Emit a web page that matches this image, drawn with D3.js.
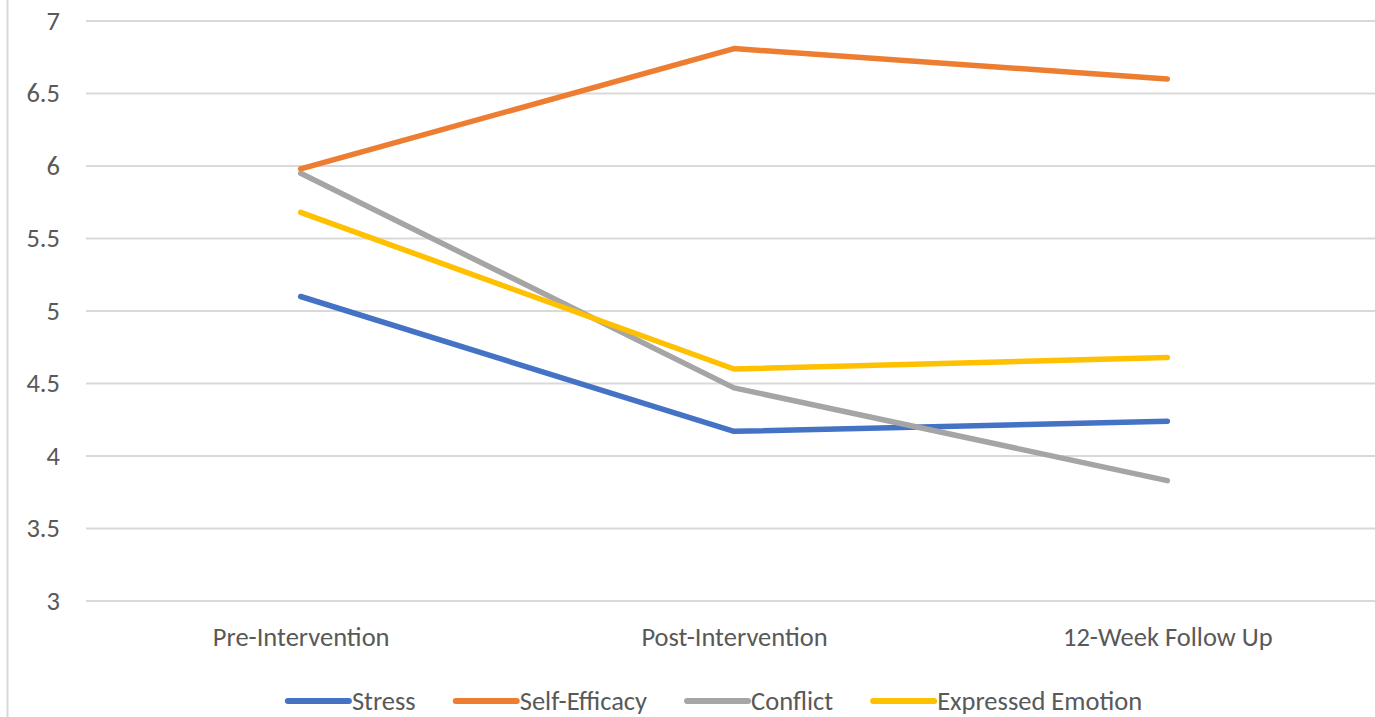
<!DOCTYPE html>
<html>
<head>
<meta charset="utf-8">
<script src="https://cdn.jsdelivr.net/npm/d3@7"></script>
<style>
  html, body { margin: 0; padding: 0; background: #fff; }
  svg { display: block; }
  text { font-family: Carlito, Lato, "Open Sans", sans-serif; fill: #595959; }
</style>
</head>
<body>
<svg id="chart" width="1375" height="717"></svg>
<script>
const categories = ["Pre-Intervention", "Post-Intervention", "12-Week Follow Up"];
const seriesNames = ["Stress", "Self-Efficacy", "Conflict", "Expressed Emotion"];
const stress = [5.10, 4.17, 4.24];
const selfEfficacy = [5.98, 6.81, 6.60];
const conflict = [5.95, 4.47, 3.83];
const expressedEmotion = [5.68, 4.60, 4.68];
const colors = ["#4472C4", "#ED7D31", "#A5A5A5", "#FFC000"];
const yTicks = [3, 3.5, 4, 4.5, 5, 5.5, 6, 6.5, 7];
const yTickLabels = ["3", "3.5", "4", "4.5", "5", "5.5", "6", "6.5", "7"];

const series = [stress, selfEfficacy, conflict, expressedEmotion].map((v, i) => ({
  name: seriesNames[i], values: v, color: colors[i]
}));

const svg = d3.select("#chart");
const W = 1375, H = 717;
const plot = { left: 84, right: 1384, top: 21, bottom: 601 };
const fs = "26.5px";

// outer left border
svg.append("line").attr("x1", 7.5).attr("x2", 7.5).attr("y1", 0).attr("y2", H)
  .attr("stroke", "#d9d9d9").attr("stroke-width", 2);

const x = d3.scalePoint().domain(categories).range([plot.left, plot.right]).padding(0.5);
const y = d3.scaleLinear().domain([3, 7]).range([plot.bottom, plot.top]);

// gridlines
svg.append("g").selectAll("line").data(yTicks).join("line")
  .attr("x1", 86).attr("x2", W)
  .attr("y1", d => y(d)).attr("y2", d => y(d))
  .attr("stroke", "#d9d9d9").attr("stroke-width", 2);

// y axis labels
const yAxis = d3.axisLeft(y).tickValues(yTicks).tickFormat((d, i) => yTickLabels[i]).tickSize(0).tickPadding(0);
const gy = svg.append("g").attr("transform", "translate(60,0)").call(yAxis);
gy.select(".domain").remove();
gy.selectAll("text").style("font-size", fs).attr("fill", "#595959").attr("font-family", null);

// x axis labels
const xAxis = d3.axisBottom(x).tickSize(0).tickPadding(0);
const gx = svg.append("g").attr("transform", "translate(0,627)").call(xAxis);
gx.select(".domain").remove();
gx.selectAll("text").style("font-size", fs).attr("fill", "#595959").attr("font-family", null).attr("dy", "0.71em").attr("y", 0);

// lines
const line = d3.line().x((d, i) => x(categories[i])).y(d => y(d));
svg.append("g").selectAll("path").data(series).join("path")
  .attr("d", d => line(d.values))
  .attr("fill", "none")
  .attr("stroke", d => d.color)
  .attr("stroke-width", 5.5)
  .attr("stroke-linecap", "round")
  .attr("stroke-linejoin", "round");

// legend
const legend = svg.append("g");
const items = legend.selectAll("g").data(series).join("g");
items.append("line").attr("x1", 0).attr("x2", 61).attr("y1", 0).attr("y2", 0)
  .attr("stroke", d => d.color).attr("stroke-width", 6).attr("stroke-linecap", "round");
items.append("text").attr("x", 64).attr("y", 0).attr("dy", "0.35em")
  .style("font-size", fs).text(d => d.name);
let cx = 0;
const gap = 40;
const positions = [];
items.each(function () {
  const tw = d3.select(this).select("text").node().getComputedTextLength();
  positions.push(cx);
  cx += 64 + tw + gap;
});
const totalW = cx - gap;
const startX = 715 - totalW / 2;
items.attr("transform", (d, i) => `translate(${startX + positions[i]},701)`);
</script>
</body>
</html>
